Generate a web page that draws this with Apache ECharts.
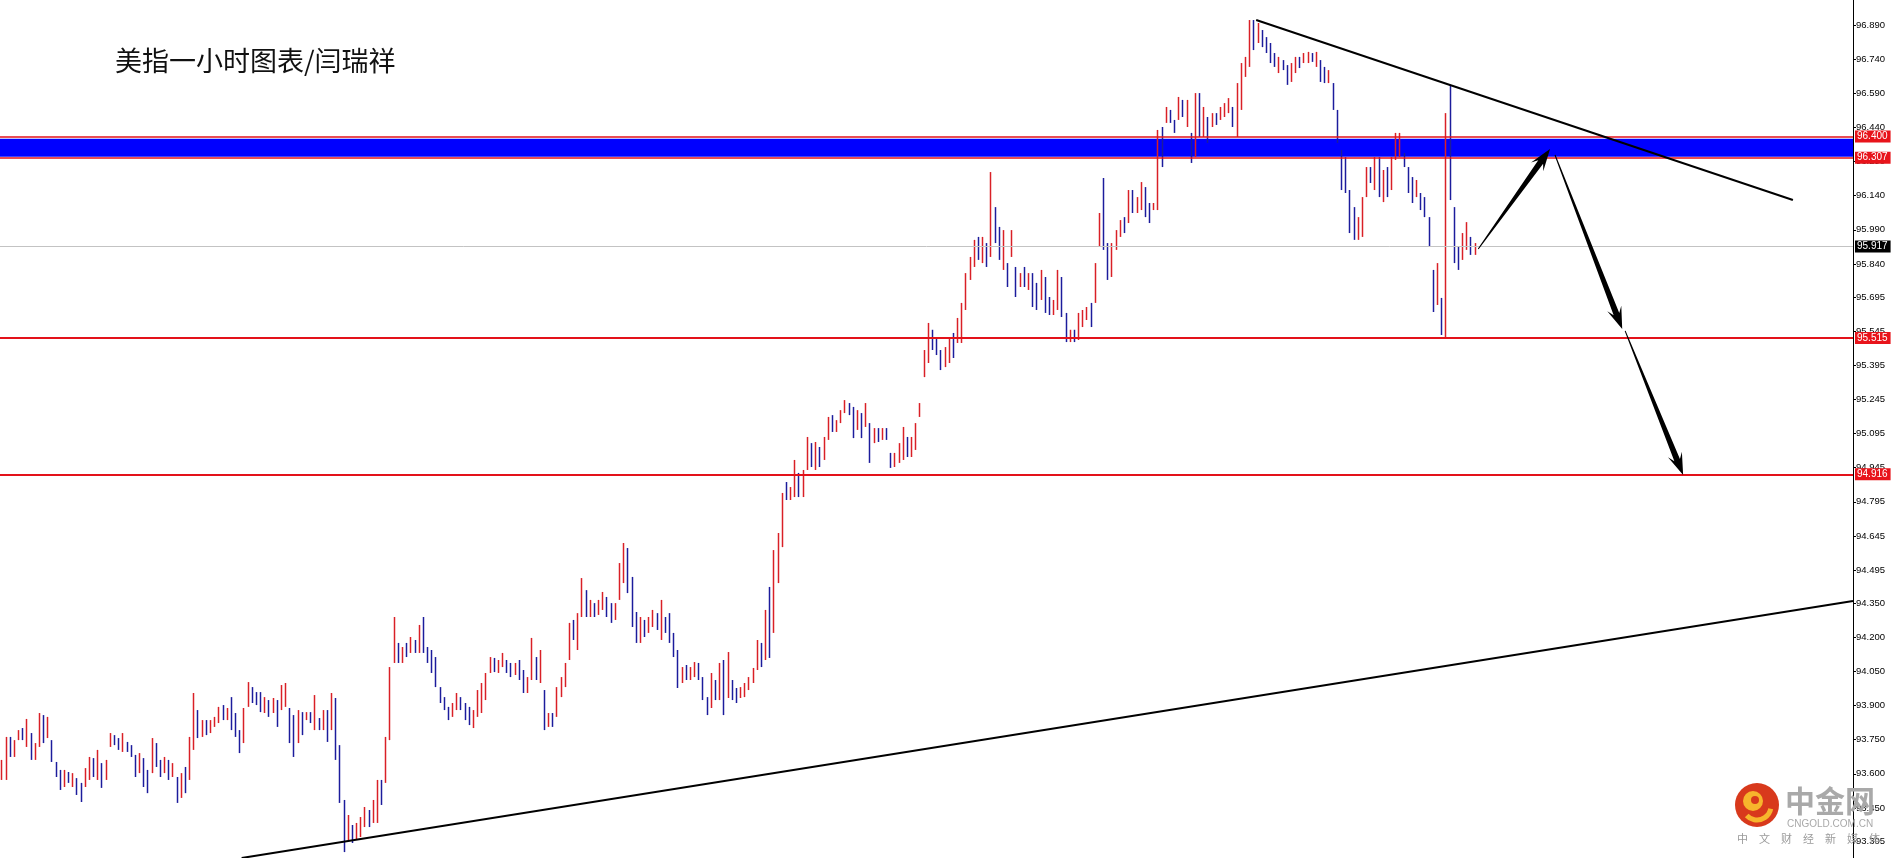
<!DOCTYPE html>
<html><head><meta charset="utf-8">
<script src="https://cdn.jsdelivr.net/npm/echarts@6/dist/echarts.min.js"></script>
<style>html,body{margin:0;padding:0;background:#fff}#c{width:1891px;height:858px}</style>
</head><body><div id="c"></div>
<script>
// ---------- DATA (hourly OHLC bars) ----------
const titleText = '美指一小时图表/闫瑞祥';
const opens = [
93.590,93.640,93.740,93.700,93.748,93.780,93.760,93.779,93.680,93.725,
93.850,93.760,93.748,93.652,93.595,93.545,93.600,93.570,93.581,93.515,
93.545,93.615,93.660,93.600,93.647,93.573,93.718,93.770,93.735,93.715,
93.740,93.705,93.680,93.603,93.669,93.555,93.603,93.735,93.640,93.603,
93.661,93.586,93.586,93.494,93.590,93.573,93.740,93.880,93.770,93.820,
93.780,93.825,93.845,93.885,93.845,93.880,93.800,93.770,93.735,93.894,
93.981,93.920,93.910,93.880,93.924,93.867,93.924,93.880,93.960,93.889,
93.745,93.735,93.870,93.836,93.865,93.830,93.845,93.800,93.870,93.792,
93.933,93.670,93.485,93.309,93.375,93.310,93.375,93.400,93.441,93.384,
93.475,93.560,93.560,93.750,94.087,94.175,94.100,94.150,94.131,94.188,
94.140,94.240,94.150,94.095,94.050,93.981,93.920,93.890,93.850,93.905,
93.937,93.890,93.845,93.820,93.870,93.960,93.990,94.043,94.105,94.055,
94.095,94.100,94.050,94.034,94.080,94.020,93.965,94.015,94.113,94.030,
93.968,93.806,93.855,93.850,93.970,94.015,94.100,94.250,94.200,94.289,
94.407,94.300,94.350,94.300,94.355,94.377,94.300,94.276,94.364,94.515,
94.592,94.420,94.260,94.190,94.276,94.219,94.280,94.306,94.240,94.289,
94.225,94.185,94.120,93.999,94.060,94.020,94.060,94.085,94.020,93.935,
93.889,94.012,93.935,94.075,93.933,94.012,93.935,93.933,93.975,93.990,
94.020,94.060,94.175,94.100,94.310,94.219,94.570,94.640,94.820,94.810,
94.850,94.922,94.830,94.935,95.053,94.960,95.036,94.979,95.070,95.160,
95.110,95.145,95.190,95.229,95.185,95.111,95.185,95.124,95.141,95.053,
95.110,95.067,95.110,95.010,94.950,95.000,95.045,95.080,95.000,95.070,
95.168,95.343,95.450,95.551,95.470,95.450,95.387,95.465,95.510,95.493,
95.590,95.655,95.790,95.860,95.935,95.870,95.932,95.871,95.980,95.945,
95.870,95.844,95.871,95.827,95.739,95.790,95.750,95.790,95.660,95.682,
95.783,95.635,95.625,95.675,95.783,95.615,95.505,95.545,95.506,95.615,
95.630,95.645,95.669,95.915,96.050,95.920,95.783,95.920,95.980,96.025,
96.020,96.155,96.075,96.125,96.178,96.055,96.077,96.100,96.400,96.460,
96.517,96.470,96.473,96.560,96.495,96.416,96.310,96.570,96.410,96.486,
96.442,96.495,96.473,96.520,96.540,96.530,96.455,96.620,96.710,96.740,
96.900,96.811,96.868,96.800,96.775,96.730,96.700,96.736,96.700,96.640,
96.710,96.740,96.723,96.760,96.765,96.735,96.736,96.650,96.645,96.635,
96.517,96.341,96.180,96.160,95.990,95.960,96.030,96.134,96.255,96.205,
96.300,96.145,96.240,96.165,96.300,96.310,96.328,96.266,96.160,96.134,
96.152,96.085,96.046,95.814,95.660,95.691,95.540,96.420,96.090,95.860,
95.860,95.960,95.959,95.890];
const highs = [
93.661,93.762,93.762,93.748,93.792,93.801,93.841,93.779,93.735,93.867,
93.858,93.850,93.748,93.652,93.617,93.617,93.608,93.603,93.581,93.560,
93.625,93.674,93.669,93.705,93.647,93.661,93.779,93.770,93.757,93.779,
93.740,93.726,93.683,93.691,93.669,93.617,93.757,93.735,93.661,93.674,
93.661,93.647,93.586,93.603,93.630,93.762,93.955,93.880,93.836,93.836,
93.836,93.850,93.894,93.902,93.889,93.937,93.867,93.792,93.889,94.003,
93.981,93.959,93.959,93.937,93.924,93.933,93.924,93.990,93.999,93.889,
93.858,93.880,93.871,93.871,93.871,93.946,93.845,93.880,93.880,93.955,
93.933,93.726,93.485,93.419,93.375,93.384,93.410,93.454,93.441,93.485,
93.573,93.573,93.762,94.069,94.289,94.175,94.157,94.175,94.201,94.188,
94.254,94.289,94.157,94.144,94.113,93.981,93.937,93.894,93.911,93.955,
93.937,93.911,93.894,93.880,93.968,93.999,94.043,94.113,94.109,94.100,
94.131,94.100,94.087,94.087,94.100,94.056,94.025,94.197,94.113,94.144,
93.968,93.867,93.867,93.981,94.025,94.087,94.263,94.276,94.306,94.460,
94.407,94.364,94.350,94.364,94.399,94.377,94.350,94.350,94.526,94.614,
94.592,94.465,94.311,94.289,94.276,94.289,94.320,94.306,94.364,94.289,
94.306,94.219,94.144,94.069,94.078,94.069,94.091,94.087,94.025,93.937,
94.043,94.012,94.087,94.100,94.135,94.012,93.977,93.981,93.999,94.025,
94.065,94.188,94.175,94.320,94.421,94.583,94.658,94.834,94.882,94.860,
94.979,94.922,94.935,95.080,95.053,95.058,95.036,95.080,95.168,95.176,
95.154,95.198,95.242,95.229,95.212,95.198,95.185,95.229,95.141,95.119,
95.119,95.119,95.119,95.010,95.010,95.053,95.124,95.080,95.080,95.141,
95.229,95.462,95.581,95.551,95.519,95.462,95.475,95.519,95.537,95.603,
95.669,95.800,95.871,95.946,95.959,95.959,95.932,96.244,96.090,96.003,
95.989,95.844,95.989,95.827,95.800,95.827,95.800,95.800,95.757,95.814,
95.783,95.695,95.682,95.814,95.783,95.625,95.551,95.551,95.625,95.638,
95.651,95.669,95.844,96.064,96.218,95.932,95.932,95.989,96.033,96.046,
96.165,96.165,96.134,96.200,96.178,96.108,96.108,96.429,96.442,96.530,
96.517,96.473,96.574,96.561,96.561,96.416,96.591,96.591,96.530,96.486,
96.503,96.503,96.530,96.547,96.569,96.530,96.635,96.723,96.750,96.912,
96.912,96.899,96.868,96.837,96.811,96.767,96.750,96.736,96.714,96.723,
96.750,96.750,96.767,96.772,96.767,96.772,96.736,96.706,96.692,96.635,
96.517,96.341,96.310,96.165,96.090,96.046,96.134,96.266,96.266,96.310,
96.310,96.253,96.266,96.310,96.416,96.416,96.328,96.266,96.222,96.209,
96.152,96.134,96.046,95.814,95.844,95.691,96.503,96.627,96.090,95.915,
95.976,96.024,95.959,95.932];
const lows = [
93.573,93.573,93.674,93.674,93.748,93.748,93.718,93.661,93.661,93.718,
93.735,93.757,93.652,93.586,93.529,93.542,93.560,93.542,93.507,93.476,
93.542,93.573,93.586,93.573,93.538,93.573,93.718,93.726,93.705,93.696,
93.696,93.674,93.586,93.603,93.542,93.515,93.603,93.630,93.586,93.603,
93.573,93.586,93.472,93.494,93.515,93.573,93.705,93.757,93.762,93.770,
93.779,93.806,93.823,93.836,93.836,93.792,93.762,93.691,93.735,93.894,
93.911,93.902,93.871,93.867,93.850,93.867,93.806,93.880,93.894,93.735,
93.674,93.735,93.770,93.836,93.823,93.792,93.792,93.792,93.740,93.792,
93.661,93.472,93.256,93.309,93.296,93.309,93.322,93.366,93.366,93.384,
93.384,93.463,93.560,93.748,94.087,94.087,94.087,94.113,94.131,94.131,
94.131,94.131,94.087,94.043,93.981,93.911,93.880,93.836,93.850,93.880,
93.880,93.836,93.814,93.801,93.850,93.867,93.924,94.043,94.047,94.043,
94.069,94.043,94.025,94.034,94.012,93.955,93.955,94.012,94.012,93.999,
93.792,93.806,93.806,93.850,93.937,93.981,94.100,94.188,94.144,94.289,
94.289,94.289,94.289,94.298,94.320,94.289,94.263,94.276,94.364,94.438,
94.394,94.245,94.175,94.175,94.201,94.219,94.245,94.232,94.188,94.219,
94.175,94.113,93.977,93.999,94.012,94.012,94.025,94.012,93.924,93.858,
93.889,93.924,93.924,93.858,93.933,93.924,93.911,93.933,93.937,93.968,
93.999,94.056,94.069,94.100,94.109,94.219,94.438,94.596,94.803,94.803,
94.816,94.816,94.816,94.935,94.948,94.935,94.948,94.979,95.067,95.102,
95.102,95.141,95.185,95.176,95.075,95.111,95.075,95.124,94.966,95.053,
95.058,95.067,95.067,94.944,94.948,94.966,94.979,94.992,94.992,95.023,
95.168,95.343,95.405,95.462,95.440,95.374,95.387,95.405,95.427,95.493,
95.493,95.638,95.770,95.827,95.858,95.844,95.827,95.871,95.932,95.858,
95.814,95.739,95.871,95.695,95.739,95.739,95.726,95.651,95.638,95.682,
95.625,95.616,95.616,95.638,95.607,95.497,95.497,95.497,95.506,95.563,
95.594,95.563,95.669,95.915,95.902,95.770,95.783,95.902,95.959,95.976,
96.020,96.064,96.064,96.077,96.046,96.020,96.077,96.077,96.266,96.460,
96.460,96.416,96.473,96.486,96.442,96.284,96.310,96.398,96.398,96.372,
96.442,96.451,96.473,96.486,96.503,96.442,96.398,96.517,96.662,96.706,
96.780,96.811,96.793,96.767,96.723,96.706,96.679,96.692,96.627,96.640,
96.679,96.701,96.723,96.723,96.728,96.706,96.640,96.635,96.635,96.517,
96.372,96.165,96.152,95.976,95.946,95.946,95.959,96.134,96.196,96.165,
96.134,96.112,96.134,96.165,96.297,96.310,96.266,96.152,96.108,96.134,
96.077,96.046,95.915,95.629,95.660,95.528,95.515,96.121,95.844,95.814,
95.858,95.902,95.880,95.880];
const closes = [
93.640,93.740,93.700,93.735,93.780,93.760,93.830,93.680,93.725,93.850,
93.760,93.840,93.660,93.595,93.540,93.600,93.570,93.595,93.515,93.490,
93.615,93.660,93.600,93.690,93.550,93.650,93.770,93.735,93.715,93.765,
93.705,93.680,93.600,93.680,93.555,93.525,93.745,93.640,93.600,93.665,
93.585,93.640,93.480,93.590,93.530,93.740,93.930,93.770,93.820,93.780,
93.825,93.845,93.885,93.845,93.880,93.800,93.770,93.700,93.880,93.990,
93.920,93.910,93.880,93.930,93.860,93.925,93.815,93.980,93.990,93.745,
93.690,93.870,93.790,93.865,93.830,93.935,93.800,93.870,93.750,93.945,
93.670,93.490,93.300,93.400,93.310,93.375,93.400,93.445,93.380,93.475,
93.560,93.480,93.750,94.050,94.270,94.100,94.150,94.120,94.195,94.140,
94.240,94.150,94.095,94.050,93.990,93.920,93.890,93.845,93.905,93.945,
93.890,93.845,93.820,93.870,93.960,93.990,94.035,94.105,94.055,94.095,
94.125,94.050,94.030,94.080,94.020,93.965,94.015,94.180,94.030,94.130,
93.800,93.855,93.815,93.970,94.015,94.080,94.250,94.200,94.290,94.450,
94.300,94.355,94.300,94.355,94.390,94.300,94.270,94.340,94.515,94.600,
94.420,94.260,94.190,94.280,94.210,94.280,94.310,94.240,94.350,94.225,
94.185,94.120,93.985,94.060,94.020,94.060,94.085,94.020,93.935,93.870,
94.030,93.935,94.075,93.870,94.120,93.935,93.920,93.975,93.990,94.020,
94.060,94.175,94.080,94.310,94.130,94.570,94.640,94.820,94.810,94.850,
94.960,94.830,94.925,95.070,94.960,95.045,94.960,95.070,95.160,95.110,
95.145,95.190,95.235,95.185,95.085,95.190,95.090,95.220,94.975,95.110,
95.065,95.110,95.075,94.950,95.000,95.045,95.115,95.000,95.070,95.130,
95.220,95.450,95.570,95.470,95.450,95.385,95.465,95.510,95.440,95.590,
95.655,95.790,95.860,95.935,95.870,95.950,95.840,95.980,95.945,95.870,
95.975,95.750,95.980,95.705,95.790,95.750,95.790,95.660,95.650,95.800,
95.635,95.625,95.675,95.800,95.615,95.505,95.545,95.505,95.615,95.630,
95.645,95.575,95.835,96.050,95.920,95.780,95.920,95.980,96.025,95.985,
96.155,96.075,96.125,96.190,96.055,96.030,96.100,96.400,96.280,96.520,
96.470,96.425,96.560,96.495,96.550,96.295,96.570,96.410,96.520,96.385,
96.495,96.460,96.520,96.540,96.560,96.455,96.620,96.710,96.740,96.900,
96.800,96.890,96.800,96.775,96.730,96.715,96.740,96.700,96.640,96.710,
96.740,96.710,96.760,96.765,96.735,96.760,96.650,96.645,96.680,96.525,
96.385,96.180,96.160,95.990,95.960,96.030,96.120,96.255,96.205,96.300,
96.145,96.240,96.150,96.300,96.405,96.400,96.275,96.160,96.120,96.200,
96.085,96.055,95.925,95.640,95.830,95.540,96.420,96.140,95.860,95.830,
95.960,96.010,95.890,95.917];

// price-axis tick labels (right side)
const tickLabels = ['96.890','96.740','96.590','96.440','96.290','96.140','95.990','95.840','95.695',
  '95.545','95.395','95.245','95.095','94.945','94.795','94.645','94.495','94.350','94.200','94.050',
  '93.900','93.750','93.600','93.450','93.305'];
// horizontal levels
const redLevels = [96.400, 96.307, 95.515, 94.916];
const bandRange = [96.311, 96.390];          // blue resistance zone
const lastPrice = 95.917;
// trend lines / arrows in [bar index, price]
const resistLine = [[300.5, 96.912], [429.1, 96.121]];
const supportLine = [[57.4, 93.230], [443.5, 94.359]];
const arrows = [
  [353.7, 95.906, 370.9, 96.345],
  [372.1, 96.319, 388.2, 95.554],
  [388.9, 95.546, 402.8, 94.913]
];
const SLOTS = 444;      // bar slots across the plot (incl. empty space right)
const Y_MIN = 93.230, Y_MAX = 97.000;

// ---------- CHART ----------
const tickValues = tickLabels.map(Number);
const candleData = opens.map((o, i) => [i, o, closes[i], lows[i], highs[i]]);
const AXF = '"Liberation Sans", Arial, sans-serif';
const chart = echarts.init(document.getElementById('c'), null, {renderer: 'canvas'});

const redLabel = {
  show: true, position: 'end', distance: 2,
  formatter: p => Number(p.value).toFixed(3),
  color: '#fff', backgroundColor: '#e8141b', fontFamily: AXF, fontSize: 10,
  lineHeight: 11, padding: [1, 3, 0, 2]
};

const option = {
  animation: false,
  backgroundColor: '#ffffff',
  title: {
    text: titleText, left: 110, top: 42,
    textStyle: {fontFamily: '"Noto Sans CJK SC"', fontSize: 27, fontWeight: 'normal', color: '#111'}
  },
  grid: {left: 0, right: 38, top: 0, bottom: 0, containLabel: false},
  xAxis: {type: 'value', min: -0.5, max: SLOTS - 0.5, show: false,
    axisLine: {show: false, onZero: false}, axisTick: {show: false}, axisLabel: {show: false}, splitLine: {show: false}},
  yAxis: {
    type: 'value', position: 'right', min: Y_MIN, max: Y_MAX, scale: true,
    splitLine: {show: false},
    axisLine: {show: true, onZero: false, lineStyle: {color: '#000', width: 1}},
    axisTick: {show: true, length: 3, lineStyle: {color: '#000'}, customValues: tickValues},
    axisLabel: {
      show: true, margin: 3, fontSize: 9.5, fontFamily: AXF, color: '#000',
      customValues: tickValues,
      formatter: v => { const k = tickValues.indexOf(v); return k >= 0 ? tickLabels[k] : v.toFixed(3); }
    }
  },
  series: [
    { // blue zone (background)
      type: 'line', data: [], z: 1, silent: true,
      markArea: {silent: true, itemStyle: {color: '#0000ff', opacity: 1},
        data: [[{yAxis: bandRange[1]}, {yAxis: bandRange[0]}]]}
    },
    { // price bars
      type: 'candlestick', data: candleData, z: 3,
      encode: {x: 0, y: [1, 2, 3, 4]},
      large: false, barWidth: 0.01,
      itemStyle: {color: '#d92027', color0: '#1c1c9c', borderColor: '#d92027', borderColor0: '#1c1c9c', borderWidth: 1.5}
    },
    { // horizontal levels
      type: 'line', data: [], z: 5, silent: true,
      markLine: {
        silent: true, symbol: ['none', 'none'], animation: false, precision: 3,
        data: [
          {yAxis: lastPrice, lineStyle: {color: '#c3c3c3', width: 1, type: 'solid'},
            label: Object.assign({}, redLabel, {backgroundColor: '#000'})},
          ...redLevels.map((v, k) => ({yAxis: v,
            lineStyle: {color: '#e3121a', width: k < 2 ? 1.5 : 2, type: 'solid'}, label: redLabel}))
        ]
      }
    },
    {type: 'line', data: resistLine, symbol: 'none', z: 6, silent: true, lineStyle: {color: '#000', width: 2}},
    {type: 'line', data: supportLine, symbol: 'none', z: 6, silent: true, lineStyle: {color: '#000', width: 2}},
    { // arrows
      type: 'custom', coordinateSystem: 'cartesian2d', data: arrows, z: 7, silent: true,
      encode: {x: [0, 2], y: [1, 3]},
      renderItem: (params, api) => {
        const p1 = api.coord([api.value(0), api.value(1)]);
        const p2 = api.coord([api.value(2), api.value(3)]);
        const dx = p2[0] - p1[0], dy = p2[1] - p1[1], len = Math.hypot(dx, dy);
        const ux = dx / len, uy = dy / len, nx = -uy, ny = ux;
        const headLen = 22, headW = 7.5, shaftW = 3, tailW = 0.5, join = 16;
        const jx = p2[0] - ux * join, jy = p2[1] - uy * join;
        const wx = p2[0] - ux * headLen, wy = p2[1] - uy * headLen;
        const pts = [
          [p1[0] + nx * tailW, p1[1] + ny * tailW],
          [jx + nx * shaftW, jy + ny * shaftW],
          [wx + nx * headW, wy + ny * headW],
          [p2[0], p2[1]],
          [wx - nx * headW, wy - ny * headW],
          [jx - nx * shaftW, jy - ny * shaftW],
          [p1[0] - nx * tailW, p1[1] - ny * tailW]
        ];
        return {type: 'polygon', shape: {points: pts}, style: {fill: '#000'}};
      }
    }
  ],
  graphic: [
    {type: 'circle', z: 100, shape: {cx: 1757, cy: 805, r: 22}, style: {fill: '#d8391c'}},
    {type: 'circle', z: 101, shape: {cx: 1753, cy: 801, r: 10}, style: {fill: '#f7b52c'}},
    {type: 'circle', z: 102, shape: {cx: 1755, cy: 800, r: 4}, style: {fill: '#d8391c'}},
    {type: 'arc', z: 101, shape: {cx: 1757, cy: 806, r: 14, startAngle: 0.2, endAngle: 2.4},
      style: {stroke: '#f7b52c', lineWidth: 5, fill: null}},
    {type: 'text', z: 100, x: 1785, y: 786,
      style: {text: '中金网', font: 'bold 30px "Noto Sans CJK SC"', fill: '#a9a9a9',
        align: 'left', verticalAlign: 'top', textAlign: 'left', textVerticalAlign: 'top'}},
    {type: 'text', z: 100, x: 1787, y: 819,
      style: {text: 'CNGOLD.COM.CN', font: '10px "Liberation Sans"', fill: '#a9a9a9',
        align: 'left', verticalAlign: 'top', textAlign: 'left', textVerticalAlign: 'top'}},
    {type: 'text', z: 100, x: 1737, y: 833,
      style: {text: '中　文　财　经　新　媒　体', font: '11px "Noto Sans CJK SC"', fill: '#9a9a9a',
        align: 'left', verticalAlign: 'top', textAlign: 'left', textVerticalAlign: 'top'}}
  ]
};
chart.setOption(option);
</script>
</body></html>
